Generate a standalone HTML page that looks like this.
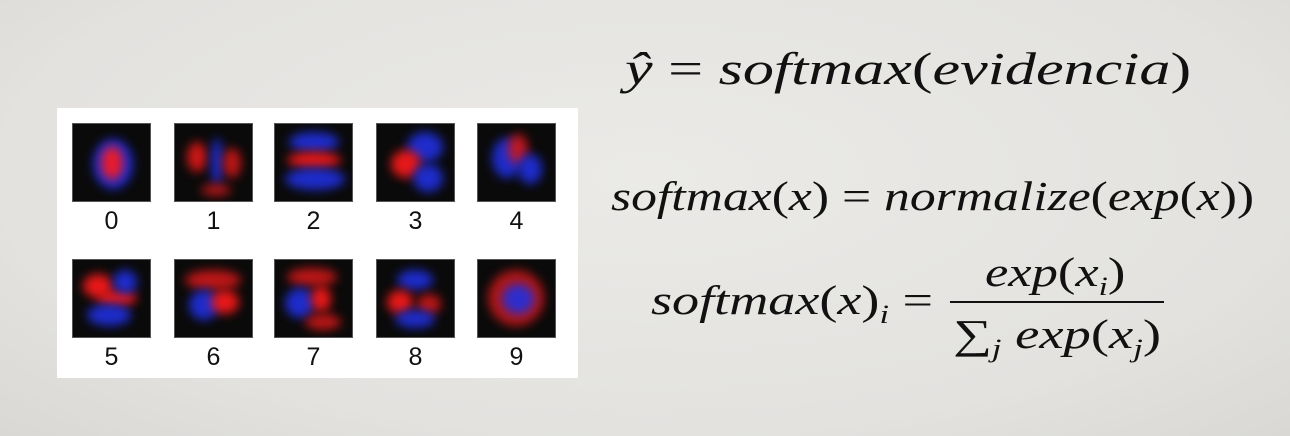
<!DOCTYPE html>
<html><head><meta charset="utf-8"><style>
body{margin:0;width:1290px;height:436px;overflow:hidden;background:#e4e3e0;position:relative;font-family:"Liberation Serif",serif}
.bg{position:absolute;inset:0;background:radial-gradient(ellipse at 50% 40%,#ebeae7 0%,#e3e2df 70%,#d9d8d5 100%)}
.panel{position:absolute;left:57px;top:108px;width:521px;height:270px;background:#fff}
.tile{position:absolute;width:79px;height:79px;background:#0a0a0a;overflow:hidden;border:1px solid #555;box-sizing:border-box}
.tile span{position:absolute;border-radius:50%;filter:blur(5px);opacity:.9}
.lab{position:absolute;width:79px;text-align:center;font:25px "Liberation Sans",sans-serif;color:#111}
.f{position:absolute;font-style:italic;color:#111;white-space:nowrap;transform-origin:0 0}
</style></head><body>
<div class="bg"></div>
<div class="panel"></div>
<div id="tiles"></div>
<div class="f" style="left:625px;top:42px;font-size:46px;transform:scaleX(1.35)">ŷ <span style="font-style:normal">=</span> softmax<span style="font-style:normal">(</span>evidencia<span style="font-style:normal">)</span></div>
<div class="f" style="left:611px;top:172px;font-size:41px;transform:scaleX(1.26)">softmax<span style="font-style:normal">(</span>x<span style="font-style:normal">) = </span>normalize<span style="font-style:normal">(</span>exp<span style="font-style:normal">(</span>x<span style="font-style:normal">))</span></div>
<div class="f" style="left:651px;top:276px;font-size:41px;transform:scaleX(1.32)">softmax<span style="font-style:normal">(</span>x<span style="font-style:normal">)</span><sub style="font-size:26px">i</sub><span style="font-style:normal"> =</span></div>
<div class="f" style="left:985px;top:248px;font-size:41px;transform:scaleX(1.28)">exp<span style="font-style:normal">(</span>x<sub style="font-size:26px">i</sub><span style="font-style:normal">)</span></div>
<div style="position:absolute;left:950px;top:301px;width:214px;height:2px;background:#111"></div>
<div class="f" style="left:953px;top:310px;font-size:41px;transform:scaleX(1.33)"><span style="font-style:normal">∑</span><sub style="font-size:26px">j</sub> exp<span style="font-style:normal">(</span>x<sub style="font-size:26px">j</sub><span style="font-style:normal">)</span></div>
<script>
const xs=[72,174,274,376,477], ys=[123,259];
const blobs=[
[[20,15,40,50,'#2030e0'],[28,22,22,34,'#ff1a1a']],
[[12,18,20,30,'#e01818'],[36,14,12,48,'#2030e0'],[48,24,18,30,'#d01818'],[26,60,30,12,'#c01818']],
[[14,8,50,20,'#2030e0'],[12,28,54,16,'#ff1a1a'],[10,44,60,22,'#2030e0']],
[[30,8,36,30,'#2030e0'],[14,26,30,28,'#ff1a1a'],[36,40,30,28,'#2030e0']],
[[14,14,30,40,'#2030e0'],[30,10,20,30,'#d01818'],[40,30,24,30,'#2030e0']],
[[10,14,30,24,'#ff1a1a'],[24,30,40,16,'#ff1a1a'],[14,44,44,22,'#2030e0'],[40,10,24,24,'#2030e0']],
[[10,10,56,20,'#d01818'],[14,30,30,30,'#2030e0'],[36,30,28,24,'#ff1a1a']],
[[12,8,50,18,'#d01818'],[10,28,30,30,'#2030e0'],[36,26,20,26,'#ff1a1a'],[30,54,36,16,'#d01818']],
[[20,10,36,20,'#2030e0'],[10,30,26,24,'#ff1a1a'],[40,34,24,20,'#d01818'],[18,50,40,18,'#2030e0']],
[[10,10,56,56,'#c01818'],[24,24,32,30,'#2030e0']]];
const root=document.getElementById('tiles');
for(let i=0;i<10;i++){
 const t=document.createElement('div');t.className='tile';
 t.style.left=xs[i%5]+'px';t.style.top=ys[Math.floor(i/5)]+'px';
 
 
 blobs[i].forEach(b=>{const s=document.createElement('span');s.style.left=b[0]+'px';s.style.top=b[1]+'px';s.style.width=b[2]+'px';s.style.height=b[3]+'px';s.style.background=b[4];t.appendChild(s);});
 root.appendChild(t);
 const l=document.createElement('div');l.className='lab';l.textContent=i;
 l.style.left=xs[i%5]+'px';l.style.top=(ys[Math.floor(i/5)]+84)+'px';
 
 
 root.appendChild(l);
}
</script>
</body></html>
